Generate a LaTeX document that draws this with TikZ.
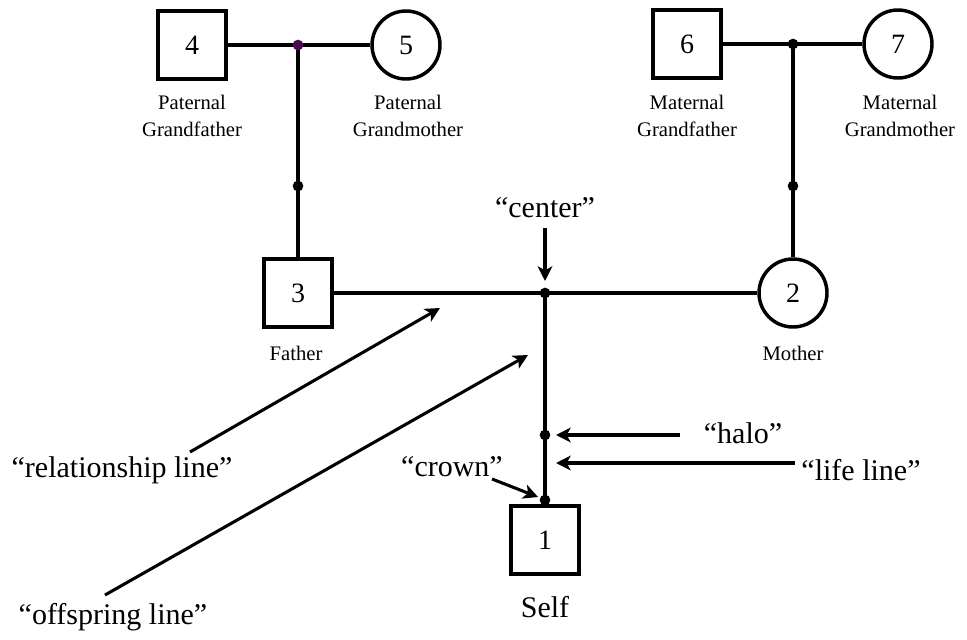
\documentclass[tikz,border=0pt]{standalone}
\usepackage{fontspec}
\setmainfont{Liberation Serif}
\usetikzlibrary{arrows.meta}
\definecolor{dotpurple}{HTML}{4D0A52}
\begin{document}
\begin{tikzpicture}[x=0.75pt,y=-0.75pt,
  male/.style={draw,line width=3pt,minimum size=51pt,inner sep=0pt,font=\fontsize{21}{24}\selectfont},
  female/.style={circle,draw,line width=2.6pt,minimum size=51pt,inner sep=0pt,font=\fontsize{21}{24}\selectfont},
  small/.style={align=center,font=\fontsize{15.5}{20}\selectfont,inner sep=0pt},
  big/.style={font=\fontsize{22.5}{26}\selectfont,inner sep=0pt},
  link/.style={line width=2.5pt},
  dot/.style={circle,fill=black,inner sep=0pt,minimum size=8pt},
  pointer/.style={line width=2.3pt,-{Stealth[length=11pt,width=11pt,inset=3pt]}}
]
\useasboundingbox (0,0) rectangle (967,639);
% persons
\node[male] (n4) at (192,45) {4};
\node[female] (n5) at (406,45) {5};
\node[male] (n6) at (687,44) {6};
\node[female] (n7) at (898,44) {7};
\node[male] (n3) at (298,293) {3};
\node[female] (n2) at (793,293) {2};
\node[male] (n1) at (545,540) {1};
% labels
\node[small] (l4) at (192,116) {Paternal\\Grandfather};
\node[small] (l5) at (408,116) {Paternal\\Grandmother};
\node[small] (l6) at (687,116) {Maternal\\Grandfather};
\node[small] (l7) at (900,116) {Maternal\\Grandmother};
\node[small] (l3) at (296,353) {Father};
\node[small] (l2) at (793,353) {Mother};
\node[big] (lself) at (545,607) {Self};
\node[big] (lcenter) at (545,208) {“center”};
\node[big] (lhalo) at (743,433) {“halo”};
\node[big] (llife) at (861,470) {“life line”};
\node[big] (lcrown) at (452,467) {“crown”};
\node[big] (lrel) at (122,470) {“relationship line”};
\node[big] (loff) at (113,617) {“offspring line”};
% junctions
\coordinate (j1) at (298,45);
\coordinate (j2) at (793,44);
\coordinate (c) at (545,293);
\coordinate (d1) at (298,186);
\coordinate (d2) at (793,186);
\coordinate (halo) at (545,435);
\coordinate (crown) at (545,500);
% lines
\draw[link] (n4) -- (j1) -- (n5);
\draw[link] (j1) -- (n3);
\draw[link] (n6) -- (j2) -- (n7);
\draw[link] (j2) -- (n2);
\draw[link] (n3) -- (c) -- (n2);
\draw[link] (c) -- (n1);
% dots
\node[dot,fill=dotpurple] (dj1) at (j1) {};
\node[dot] (dj2) at (j2) {};
\node[dot] (dd1) at (d1) {};
\node[dot] (dd2) at (d2) {};
\node[dot] (dc) at (c) {};
\node[dot] (dhalo) at (halo) {};
\node[dot] (dcrown) at (crown) {};
% pointers
\coordinate (pc0) at (545,228); \coordinate (pc1) at (545,281);
\coordinate (ph0) at (680,435); \coordinate (ph1) at (556,435);
\coordinate (pl0) at (795,463); \coordinate (pl1) at (556,463);
\coordinate (pw0) at (492,479); \coordinate (pw1) at (538,497);
\coordinate (pr0) at (190,452); \coordinate (pr1) at (440,308);
\coordinate (po0) at (105,595); \coordinate (po1) at (528,355);
\draw[pointer] (pc0) -- (pc1);
\draw[pointer] (ph0) -- (ph1);
\draw[pointer] (pl0) -- (pl1);
\draw[pointer] (pw0) -- (pw1);
\draw[pointer] (pr0) -- (pr1);
\draw[pointer] (po0) -- (po1);
\end{tikzpicture}
\end{document}
